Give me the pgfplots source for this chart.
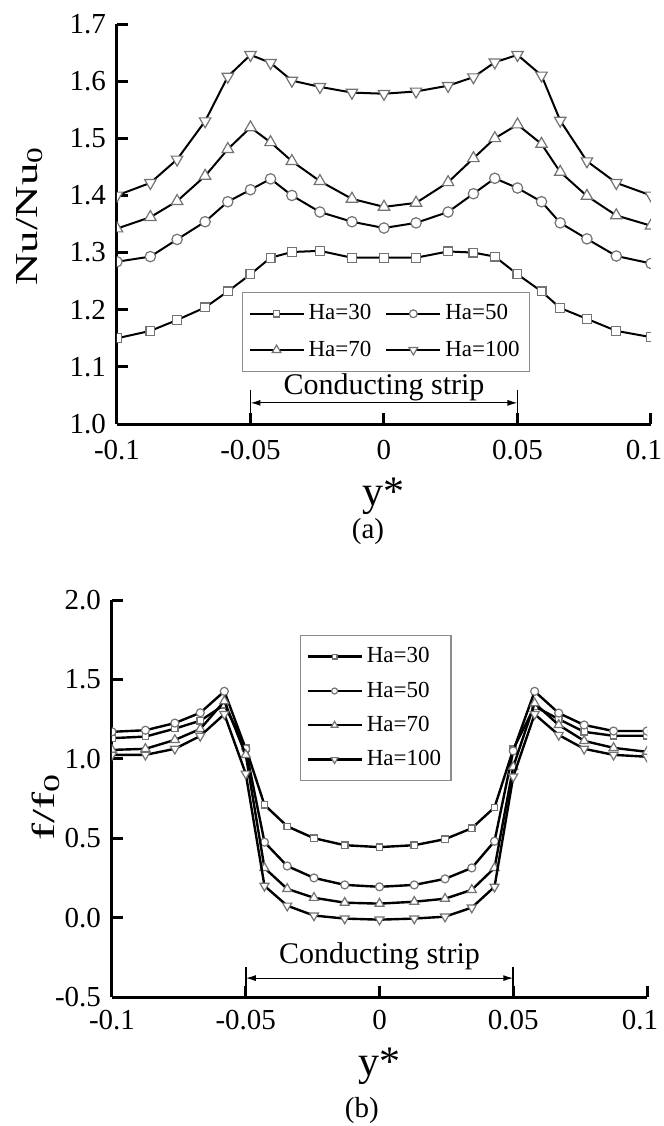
\documentclass[border=0pt]{standalone}
\usepackage{fontspec}
\setmainfont{Liberation Serif}
\usepackage{graphicx}
\usepackage{pgfplots}
\pgfplotsset{compat=1.18}
\usetikzlibrary{arrows.meta}

\pgfplotsset{
  origin/.style={
    scale only axis, width=267pt,
    axis x line*=bottom, axis y line*=left,
    axis line style={-, line width=1.5pt},
    tick align=inside, major tick length=5.5pt,
    tick style={black, line width=1.5pt},
    xmin=-0.1, xmax=0.1,
    xtick={-0.1,-0.05,0,0.05,0.1},
    xticklabels={-0.1,-0.05,0,0.05,\hspace*{-7pt}0.1},
    ticklabel style={font=\fontsize{14.5}{17}\selectfont},
    yticklabel style={xshift=-2pt},
    clip marker paths=true, clip mode=individual,
    legend cell align=left,
    legend style={draw=black!45, line width=0.6pt, font=\fontsize{11.5}{13}\selectfont},
    legend image code/.code={\draw[mark repeat=2,mark phase=2,#1,every mark/.append style={scale=0.75}]
      plot coordinates {(0pt,0pt)(13.5pt,0pt)(27pt,0pt)};},
    ylabel style={font=\fontsize{16}{19}\selectfont, anchor=center},
    xlabel style={font=\fontsize{21}{24}\selectfont, anchor=center},
  },
  curve/.style={black, line width=1pt,
    mark options={draw=black!55, fill=white, line width=0.6pt, solid}},
}

\begin{document}
\begin{tikzpicture}
\useasboundingbox (0,0) rectangle (332pt,-563pt);

% (a) Nusselt number
\begin{axis}[origin, at={(58.5pt,-212pt)}, anchor=south west, height=200pt,
  ymin=1.0, ymax=1.7, ytick={1.0,1.1,1.2,1.3,1.4,1.5,1.6,1.7},
  yticklabels={1.0,1.1,1.2,1.3,1.4,1.5,1.6,1.7},
  xticklabel style={yshift=-4.5pt},
  ylabel={\scalebox{1.4}[1]{Nu/Nu\textsubscript{0}}}, ylabel style={at={(axis description cs:-0.163,0.52)}},
  xlabel={y*}, xlabel style={at={(axis description cs:0.5,-0.18)}},
  legend columns=2,
  legend style={at={(axis description cs:0.234,0.33)}, anchor=north west, row sep=5pt, inner ysep=4pt,
    /tikz/every even column/.append style={column sep=5pt}}]
\addplot+[curve, mark=square*, mark size=2.2pt] coordinates {
(-0.1,1.150) (-0.0875,1.163) (-0.0775,1.182) (-0.067,1.204) (-0.0585,1.232) (-0.05,1.262)
(-0.0425,1.291) (-0.0345,1.301) (-0.024,1.303) (-0.012,1.291) (0,1.291) (0.012,1.291)
(0.024,1.302) (0.0335,1.300) (0.0415,1.293) (0.05,1.262) (0.059,1.232) (0.066,1.203)
(0.076,1.184) (0.087,1.163) (0.1,1.152)};
\addlegendentry{Ha=30}
\addplot+[curve, mark=*, mark size=2.6pt] coordinates {
(-0.1,1.284) (-0.0875,1.293) (-0.0775,1.323) (-0.067,1.354) (-0.0585,1.389) (-0.05,1.410)
(-0.0425,1.429) (-0.0345,1.400) (-0.024,1.371) (-0.012,1.354) (0,1.343) (0.012,1.352)
(0.024,1.371) (0.0335,1.403) (0.0415,1.430) (0.05,1.413) (0.059,1.389) (0.066,1.352)
(0.076,1.324) (0.087,1.294) (0.1,1.281)};
\addlegendentry{Ha=50}
\addplot+[curve, mark=triangle*, mark size=3.3pt] coordinates {
(-0.1,1.342) (-0.0875,1.362) (-0.0775,1.390) (-0.067,1.434) (-0.0585,1.481) (-0.05,1.519)
(-0.0425,1.493) (-0.0345,1.460) (-0.024,1.425) (-0.012,1.394) (0,1.380) (0.012,1.387)
(0.024,1.423) (0.0335,1.465) (0.0415,1.500) (0.05,1.524) (0.059,1.490) (0.066,1.441)
(0.076,1.399) (0.087,1.365) (0.1,1.347)};
\addlegendentry{Ha=70}
\addplot+[curve, mark=triangle*, mark size=3.3pt, every mark/.append style={rotate=180}] coordinates {
(-0.1,1.400) (-0.0875,1.422) (-0.0775,1.463) (-0.067,1.530) (-0.0585,1.608) (-0.05,1.646)
(-0.0425,1.632) (-0.0345,1.601) (-0.024,1.590) (-0.012,1.580) (0,1.578) (0.012,1.582)
(0.024,1.592) (0.0335,1.607) (0.0415,1.633) (0.05,1.646) (0.059,1.610) (0.066,1.531)
(0.076,1.460) (0.087,1.422) (0.1,1.400)};
\addlegendentry{Ha=100}
\draw[line width=0.8pt] (axis cs:-0.05,1.0) -- (axis cs:-0.05,1.06);
\draw[line width=0.8pt] (axis cs:0.05,1.0) -- (axis cs:0.05,1.06);
\draw[line width=0.6pt, {Latex[length=5pt,width=3pt]}-{Latex[length=5pt,width=3pt]}]
  (axis cs:-0.05,1.037) -- (axis cs:0.05,1.037);
\node[anchor=base, font=\fontsize{15}{18}\selectfont] at (axis cs:0,1.051) {Conducting strip};
\node[font=\fontsize{14.5}{17}\selectfont] at (axis description cs:0.47,-0.268) {(a)};
\end{axis}

% (b) friction factor
\begin{axis}[origin, at={(56pt,-498.5pt)}, anchor=south west, width=267.5pt, height=198.5pt,
  ymin=-0.5, ymax=2.0, ytick={-0.5,0,0.5,1.0,1.5,2.0},
  yticklabels={-0.5,0.0,0.5,1.0,1.5,2.0},
  xticklabel style={yshift=-3pt},
  ylabel={\scalebox{1.6}[1]{f/f\textsubscript{0}}}, ylabel style={at={(axis description cs:-0.123,0.48)}},
  xlabel={y*}, xlabel style={at={(axis description cs:0.5,-0.174)}},
  legend columns=1,
  legend style={at={(axis description cs:0.351,0.912)}, anchor=north west, row sep=4pt, inner ysep=4pt}]
\addplot+[curve, line width=1.2pt, mark=square*, mark size=1.6pt] coordinates {
(-0.1,1.13) (-0.0875,1.14) (-0.0765,1.19) (-0.067,1.24) (-0.058,1.34) (-0.05,1.07)
(-0.043,0.71) (-0.0345,0.575) (-0.0245,0.50) (-0.013,0.456) (0,0.444) (0.013,0.456)
(0.0245,0.494) (0.0345,0.563) (0.043,0.694) (0.05,1.06) (0.058,1.33) (0.067,1.25)
(0.0765,1.17) (0.0875,1.145) (0.1,1.145)};
\addlegendentry{Ha=30}
\addplot+[curve, line width=1.2pt, mark=*, mark size=2pt] coordinates {
(-0.1,1.17) (-0.0875,1.18) (-0.0765,1.225) (-0.067,1.29) (-0.058,1.425) (-0.05,1.063)
(-0.043,0.475) (-0.0345,0.325) (-0.0245,0.25) (-0.013,0.206) (0,0.194) (0.013,0.206)
(0.0245,0.244) (0.0345,0.313) (0.043,0.481) (0.05,1.05) (0.058,1.425) (0.067,1.288)
(0.0765,1.213) (0.0875,1.175) (0.1,1.175)};
\addlegendentry{Ha=50}
\addplot+[curve, line width=1.2pt, mark=triangle*, mark size=2.6pt] coordinates {
(-0.1,1.056) (-0.0875,1.063) (-0.0765,1.119) (-0.067,1.188) (-0.058,1.363) (-0.05,1.025)
(-0.043,0.313) (-0.0345,0.181) (-0.0245,0.125) (-0.013,0.094) (0,0.088) (0.013,0.10)
(0.0245,0.119) (0.0345,0.175) (0.043,0.313) (0.05,0.95) (0.058,1.35) (0.067,1.213)
(0.0765,1.113) (0.0875,1.069) (0.1,1.044)};
\addlegendentry{Ha=70}
\addplot+[curve, line width=1.2pt, mark=triangle*, mark size=2.6pt, every mark/.append style={rotate=180}] coordinates {
(-0.1,1.025) (-0.0875,1.025) (-0.0765,1.063) (-0.067,1.144) (-0.058,1.281) (-0.05,0.906)
(-0.043,0.20) (-0.0345,0.075) (-0.0245,0.013) (-0.013,-0.006) (0,-0.013) (0.013,-0.006)
(0.0245,0.006) (0.0345,0.063) (0.043,0.194) (0.05,0.888) (0.058,1.281) (0.067,1.15)
(0.0765,1.063) (0.0875,1.025) (0.1,1.013)};
\addlegendentry{Ha=100}
\draw[line width=0.8pt] (axis cs:-0.05,-0.5) -- (axis cs:-0.05,-0.3125);
\draw[line width=0.8pt] (axis cs:0.05,-0.5) -- (axis cs:0.05,-0.3125);
\draw[line width=0.6pt, {Latex[length=5pt,width=3pt]}-{Latex[length=5pt,width=3pt]}]
  (axis cs:-0.05,-0.381) -- (axis cs:0.05,-0.381);
\node[anchor=base, font=\fontsize{15}{18}\selectfont] at (axis cs:0,-0.2875) {Conducting strip};
\node[font=\fontsize{14.5}{17}\selectfont] at (axis description cs:0.467,-0.287) {(b)};
\end{axis}
\end{tikzpicture}
\end{document}
